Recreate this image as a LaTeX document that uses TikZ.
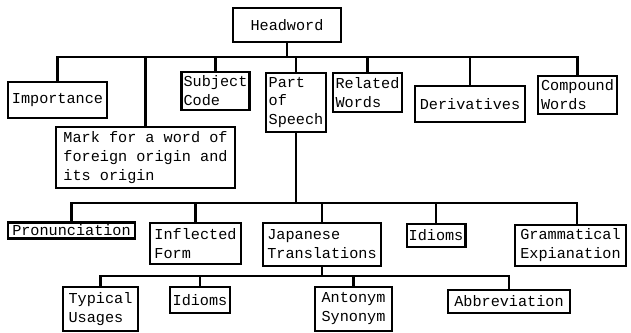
\documentclass[tikz,border=0pt]{standalone}
\usepackage{fontspec}
\setmonofont{Liberation Mono}
\usetikzlibrary{positioning, calc}

\begin{document}
\begin{tikzpicture}[
    x=0.025cm, y=-0.025cm,
    entryBox/.style={rectangle, draw=black, line width=1.5pt, fill=white, align=left,
        inner xsep=1.5pt, inner ysep=1pt,
        font=\ttfamily\fontsize{10.8}{13.5}\selectfont},
    treeLine/.style={draw=black, line width=1.5pt}
]
    \useasboundingbox (0,0) rectangle (631,332);

    % --- ROOT ---
    \node[entryBox, minimum width=2.7cm, minimum height=0.85cm] (head) at (287,25) {Headword};

    % --- FIRST LEVEL ---
    \coordinate (busA) at (0,57);
    \node[entryBox, minimum width=2.475cm, minimum height=0.9cm] (imp) at (57.5,100) {Importance};
    \node[entryBox, minimum width=4.475cm, minimum height=1.525cm] (mark) at (145.5,157.5) {Mark for a word of\\foreign origin and\\its origin};
    \node[entryBox, minimum width=1.675cm, minimum height=0.95cm] (subj) at (215.5,91) {Subject\\Code};
    \node[entryBox, minimum width=1.5cm, minimum height=1.475cm] (pos) at (296,102.5) {Part\\of\\Speech};
    \node[entryBox, minimum width=1.725cm, minimum height=0.975cm] (rel) at (367.5,92.5) {Related\\Words};
    \node[entryBox, minimum width=2.75cm, minimum height=0.9cm] (der) at (470,104) {Derivatives};
    \node[entryBox, minimum width=1.975cm, minimum height=0.95cm] (comp) at (577.5,95) {Compound\\Words};

    \foreach \child in {imp, mark, subj, pos, rel, der, comp}
        \draw[treeLine] (head.south) -- (head.south |- busA) -| (\child.north);

    % --- SECOND LEVEL (under Part of Speech) ---
    \coordinate (busB) at (0,203);
    \node[entryBox, minimum width=3.175cm, minimum height=0.4cm] (pron) at (71.5,230.5) {Pronunciation};
    \node[entryBox, minimum width=2.275cm, minimum height=1.025cm] (infl) at (195.5,243.5) {Inflected\\Form};
    \node[entryBox, minimum width=2.95cm, minimum height=1.075cm] (jap) at (322,244.5) {Japanese\\Translations};
    \node[entryBox, minimum width=1.45cm, minimum height=0.575cm] (idiA) at (436,235.5) {Idioms};
    \node[entryBox, minimum width=2.775cm, minimum height=1.025cm] (gram) at (570.5,245.5) {Grammatical\\Expianation};

    \foreach \child in {pron, infl, jap, idiA}
        \draw[treeLine] (pos.south) -- (pos.south |- busB) -| (\child.north);
    \draw[treeLine] (pos.south) -- (pos.south |- busB) -| ($(gram.north)+(6.5,0)$);

    % --- THIRD LEVEL (under Japanese Translations) ---
    \coordinate (busC) at (0,276);
    \node[entryBox, minimum width=1.875cm, minimum height=1.1cm] (typ) at (100.5,309) {Typical\\Usages};
    \node[entryBox, minimum width=1.5cm, minimum height=0.65cm] (idiB) at (200,300) {Idioms};
    \node[entryBox, minimum width=1.925cm, minimum height=1.1cm] (ant) at (353.5,309) {Antonym\\Synonym};
    \node[entryBox, minimum width=3.05cm, minimum height=0.575cm] (abb) at (509,301.5) {Abbreviation};

    \foreach \child in {typ, idiB, ant, abb}
        \draw[treeLine] (jap.south) -- (jap.south |- busC) -| (\child.north);

\end{tikzpicture}
\end{document}
